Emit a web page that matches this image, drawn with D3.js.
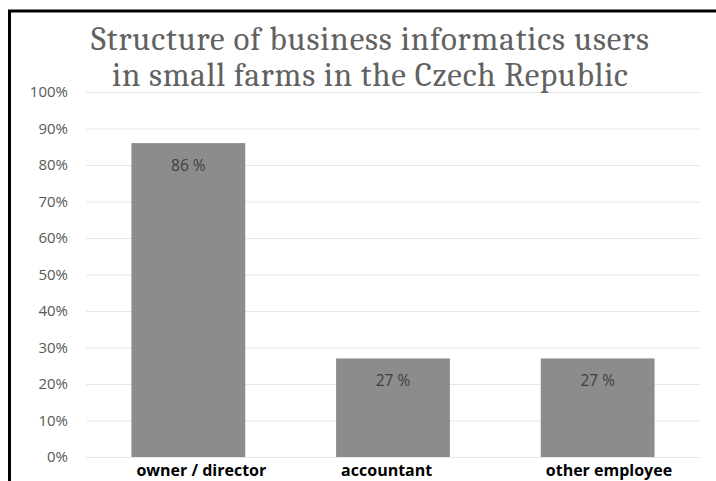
<!DOCTYPE html>
<html>
<head>
<meta charset="utf-8">
<script src="https://cdn.jsdelivr.net/npm/d3@7"></script>
<style>
  body { margin: 0; background: #fff; }
  svg { display: block; }
</style>
</head>
<body>
<svg id="chart" width="716" height="481"></svg>
<script>
// chart data
const categories = ['owner / director', 'accountant', 'other employee'];
const values = [86, 27, 27];
const yTicks = [0, 10, 20, 30, 40, 50, 60, 70, 80, 90, 100];
const titleLines = ['Structure of business informatics users', 'in small farms in the Czech Republic'];

const svg = d3.select('#chart');
const W = 716, H = 481;
const margin = { top: 92, right: 16, bottom: 24, left: 86 };
const plotW = W - margin.left - margin.right;
const plotH = H - margin.top - margin.bottom;

svg.append('rect').attr('width', W).attr('height', H).attr('fill', '#fff');

const x = d3.scaleBand()
  .domain(categories)
  .range([0, plotW])
  .paddingInner(0.444)
  .paddingOuter(0.222);

const y = d3.scaleLinear()
  .domain([0, 100])
  .range([plotH, 0]);

const g = svg.append('g')
  .attr('transform', `translate(${margin.left},${margin.top})`);

// gridlines + y labels
const yAxis = g.append('g')
  .call(d3.axisLeft(y).tickValues(yTicks).tickSize(-plotW).tickFormat(d => d + '%'));
yAxis.select('.domain').remove();
yAxis.selectAll('.tick line').attr('stroke', '#e6e6e6').attr('stroke-width', 1);
yAxis.selectAll('.tick text')
  .attr('x', -18)
  .attr('fill', '#595959')
  .style('font-family', '"Open Sans", sans-serif')
  .style('font-size', '15px');

// bars
g.selectAll('rect.bar')
  .data(values)
  .enter()
  .append('rect')
  .attr('class', 'bar')
  .attr('x', (d, i) => x(categories[i]))
  .attr('y', d => y(d))
  .attr('width', x.bandwidth())
  .attr('height', d => plotH - y(d))
  .attr('fill', '#8c8c8c');

// value labels
g.selectAll('text.val')
  .data(values)
  .enter()
  .append('text')
  .attr('class', 'val')
  .attr('x', (d, i) => x(categories[i]) + x.bandwidth() / 2)
  .attr('y', d => y(d) + 28)
  .attr('text-anchor', 'middle')
  .attr('fill', '#404040')
  .style('font-family', '"Open Sans", sans-serif')
  .style('font-size', '15.5px')
  .text(d => d + ' %');

// category labels (left-ish aligned under each bar, like the original)
const xAxis = g.append('g')
  .attr('transform', `translate(0,${plotH})`)
  .call(d3.axisBottom(x).tickSize(0));
xAxis.select('.domain').remove();
xAxis.selectAll('.tick text')
  .attr('x', -x.bandwidth() / 2 + 5)
  .attr('y', 19)
  .attr('dy', 0)
  .attr('text-anchor', 'start')
  .attr('fill', '#000')
  .style('font-family', '"Open Sans", sans-serif')
  .style('font-weight', 'bold')
  .style('font-size', '16px');

// title
const titleWidths = [558, 516];
svg.append('g').selectAll('text')
  .data(titleLines)
  .enter()
  .append('text')
  .attr('x', 370)
  .attr('y', (d, i) => 50 + i * 36)
  .attr('text-anchor', 'middle')
  .attr('fill', '#616161')
  .attr('textLength', (d, i) => titleWidths[i])
  .attr('lengthAdjust', 'spacing')
  .style('font-family', 'Cambria, Caladea, "Liberation Serif", serif')
  .style('font-size', '33px')
  .text(d => d);

// frame (top and left edges visible)
svg.append('path')
  .attr('d', `M9.5,${H} L9.5,11 L${W},11`)
  .attr('fill', 'none')
  .attr('stroke', '#000')
  .attr('stroke-width', 3);
</script>
</body>
</html>
